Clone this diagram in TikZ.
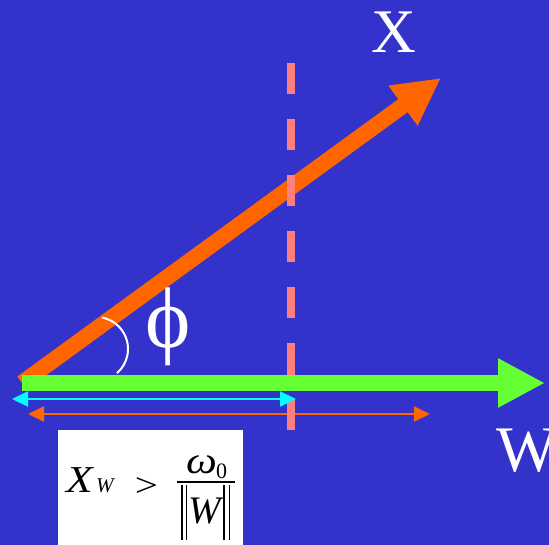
\documentclass[tikz,border=0pt]{standalone}
\usepackage{fontspec}
\setmainfont{Liberation Serif}
\usetikzlibrary{arrows.meta}
\definecolor{bgblue}{HTML}{3333CC}
\definecolor{vgreen}{HTML}{66FF33}
\definecolor{vorange}{HTML}{FF6600}
\definecolor{vpink}{HTML}{FF7F7F}
\definecolor{vcyan}{HTML}{00FFFF}
\tikzset{
  bigarrow/.style={line width=16pt, -{Triangle[length=47pt,width=46pt]}},
  thinarrow/.style={line width=2.2pt, {Triangle[length=16pt,width=15pt]}-{Triangle[length=16pt,width=15pt]}},
  lbl/.style={inner sep=0pt, outer sep=0pt, text=white, anchor=base west},
  eq/.style={inner sep=0pt, outer sep=0pt, text=black, anchor=base west},
}
\begin{document}
\begin{tikzpicture}[x=1pt,y=-1pt]
\fill[bgblue] (0,0) rectangle (549,545);
\useasboundingbox (0,0) rectangle (549,545);
% named points
\coordinate (O) at (22,383);
\coordinate (Xtip) at (441,78);
\coordinate (Wtip) at (545,383);
\coordinate (Dtop) at (291,63);
\coordinate (Dbot) at (291,430);
\coordinate (Cl) at (12,399);
\coordinate (Cr) at (296,399);
\coordinate (Ol) at (28,414);
\coordinate (Or) at (430,414);
\coordinate (Ac) at (96,349);
% orange vector X
\draw[bigarrow, vorange] (O) -- (Xtip);
% thin orange double arrow
\draw[thinarrow, vorange, line width=2pt] (Ol) -- (Or);
% pink dashed threshold line
\draw[vpink, line width=8pt, dash pattern=on 31.5pt off 24.5pt] (Dtop) -- (Dbot);
% green vector W
\draw[bigarrow, vgreen] (O) -- (Wtip);
% cyan double arrow
\draw[thinarrow, vcyan] (Cl) -- (Cr);
% angle arc
\draw[white, line width=2pt] ([shift={(-79:32)}]Ac) arc[start angle=-79, end angle=49, radius=32];
% labels
\node[lbl, font=\fontsize{62}{62}\selectfont] (xl) at (371,53) {X};
\node[lbl, font=\fontsize{65}{65}\selectfont] (wl) at (496,471) {W};
\node[inner sep=0pt, text=white, anchor=base, font=\fontsize{86}{86}\selectfont] (phi) at (168,348) {\symbol{"03D5}};
% formula box
\fill[white] (58,430) rectangle (243,545);
\node[eq, xscale=1.15, font=\fontsize{38}{38}\selectfont\itshape] (ex) at (66,492) {X};
\node[eq, font=\fontsize{21}{21}\selectfont\itshape] (ew) at (96,492) {W};
\node[inner sep=0pt, text=black, xscale=1.25, font=\fontsize{33}{33}\selectfont] (gt) at (146.5,487) {>};
\node[eq, xscale=1.15, font=\fontsize{38}{38}\selectfont\itshape] (om) at (186,473) {ω};
\node[eq, font=\fontsize{22}{22}\selectfont] (zero) at (216,478) {0};
\draw[black, line width=1.3pt] (177,482) -- (235,482);
\node[eq, font=\fontsize{39}{39}\selectfont\itshape] (ww) at (188,523) {W};
\draw[black, line width=1.2pt] (182,485) -- (182,540) (186.5,485) -- (186.5,540) (224,485) -- (224,540) (229.5,485) -- (229.5,540);
\end{tikzpicture}
\end{document}
